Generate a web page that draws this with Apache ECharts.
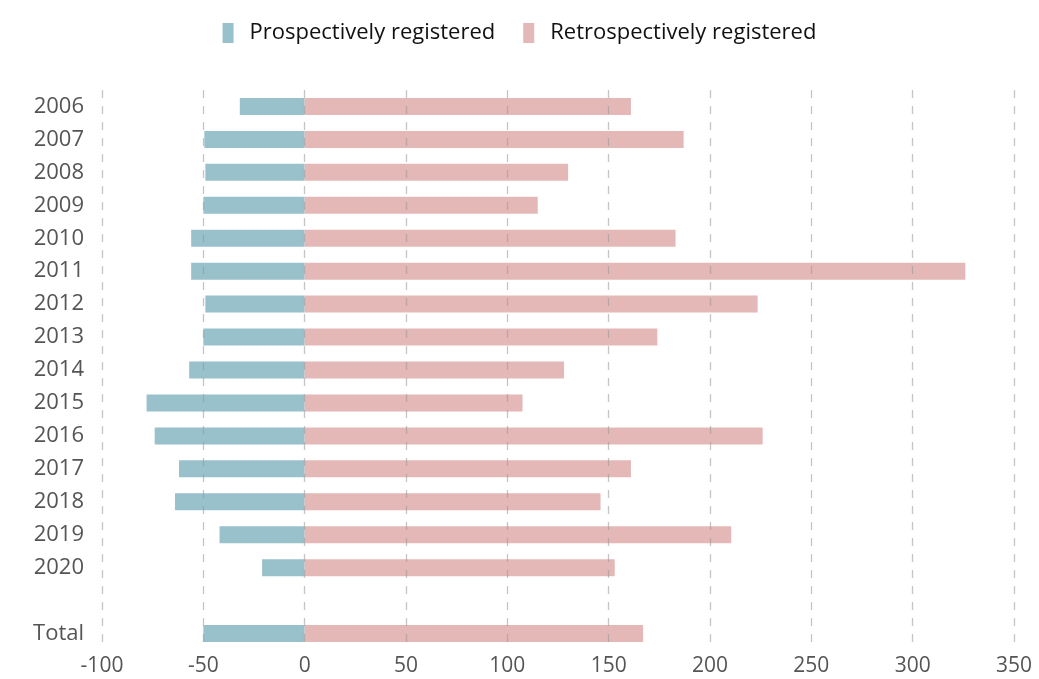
<!DOCTYPE html>
<html>
<head>
<meta charset="utf-8">
<script src="https://cdn.jsdelivr.net/npm/echarts@6/dist/echarts.min.js"></script>
<style>
  html, body { margin: 0; padding: 0; background: #fff; }
  #chart { width: 1039px; height: 679px; }
</style>
</head>
<body>
<div id="chart"></div>
<script>
// Registrations per year; prospective counts are plotted to the left of zero.
const years = ['2006', '2007', '2008', '2009', '2010', '2011', '2012', '2013', '2014',
               '2015', '2016', '2017', '2018', '2019', '2020', '', 'Total'];
const prospective = [-32, -49.5, -49, -50, -56, -56, -49, -50, -57,
                     -78, -74, -62, -64, -42, -21, null, -50];
const retrospective = [161, 187, 130, 115, 183, 326, 223.5, 174, 128,
                       107.5, 226, 161, 146, 210.5, 153, null, 167];
const xTicks = { min: -100, max: 350, interval: 50 };

const FONT = 'Open Sans';
const chart = echarts.init(document.getElementById('chart'), null, { renderer: 'canvas' });

chart.setOption({
  animation: false,
  textStyle: { fontFamily: FONT },
  legend: {
    top: 17,
    left: 'center',
    itemWidth: 11,
    itemHeight: 20,
    itemGap: 28,
    icon: 'rect',
    textStyle: { fontSize: 22, color: '#111', fontFamily: FONT, padding: [0, 0, 0, 11] },
    data: ['Prospectively registered', 'Retrospectively registered']
  },
  grid: { left: 102, right: 25, top: 90, bottom: 29, containLabel: false },
  xAxis: {
    type: 'value',
    min: xTicks.min,
    max: xTicks.max,
    interval: xTicks.interval,
    z: 5,
    axisLine: { show: false },
    axisTick: { show: false },
    axisLabel: { fontSize: 21, color: '#555', margin: 6, fontFamily: FONT },
    splitLine: { show: true, lineStyle: { color: 'rgba(150,150,150,0.55)', type: [8, 8], width: 1.3 } }
  },
  yAxis: {
    type: 'category',
    inverse: true,
    data: years,
    axisLine: { show: false },
    axisTick: { show: false },
    axisLabel: { fontSize: 22, color: '#555', margin: 18, fontFamily: FONT }
  },
  series: [
    {
      name: 'Prospectively registered',
      type: 'bar',
      stack: 'reg',
      barWidth: 17,
      itemStyle: { color: '#98c1cc' },
      data: prospective
    },
    {
      name: 'Retrospectively registered',
      type: 'bar',
      stack: 'reg',
      barWidth: 17,
      itemStyle: { color: '#e5b8b8' },
      data: retrospective
    }
  ]
});
</script>
</body>
</html>
